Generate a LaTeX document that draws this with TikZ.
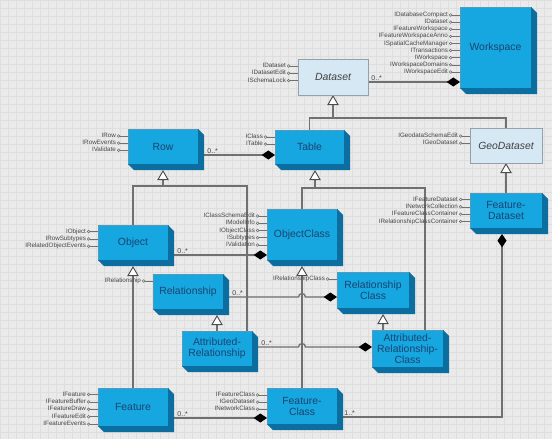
\documentclass[tikz,border=0pt]{standalone}
\usepackage{fontspec}
\setmainfont{Liberation Sans}
\usetikzlibrary{arrows.meta,calc}

\definecolor{paperfill}{RGB}{234,234,234}
\definecolor{gridcol}{RGB}{222,222,222}
\definecolor{boxfront}{RGB}{22,166,224}
\definecolor{boxside}{RGB}{12,110,158}
\definecolor{boxtext}{RGB}{26,68,112}
\definecolor{absfill}{RGB}{214,232,244}
\definecolor{absedge}{RGB}{150,160,170}
\definecolor{wire}{RGB}{112,112,112}
\definecolor{ifacetext}{RGB}{72,72,72}

\pgfdeclarelayer{paper}
\pgfdeclarelayer{wires}
\pgfsetlayers{paper,wires,main}

\tikzset{
  classbox/.style 2 args={rectangle, inner sep=0pt, outer sep=0pt, anchor=north west,
    minimum width=#1*0.75pt, minimum height=#2*0.75pt, align=center,
    font=\fontsize{7.8}{8.2}\selectfont, text=boxtext},
  solidbox/.style={fill=boxfront, draw=boxside!70, line width=0.3pt},
  abstractbox/.style={fill=absfill, draw=absedge, line width=0.6pt, text=black!75,
    font=\fontsize{7.8}{8.2}\selectfont\itshape},
  iface/.style={anchor=east, inner sep=0.6pt, text height=3.3pt, text depth=0.9pt,
    font=\fontsize{4.7}{5}\selectfont, text=ifacetext},
  lolli/.style={draw=wire, line width=0.4pt, {Circle[open, length=2.4pt]}-},
  mult/.style={pos=0, anchor=south west, xshift=6pt, inner sep=0.6pt,
    font=\fontsize{5.2}{6}\selectfont, text=black!75},
  wireline/.style={draw=wire, line width=1pt},
  inherit/.style={wireline, -{Triangle[color=black!70, fill=white, line width=0.7pt, length=7.5pt, width=8.5pt]}},
  owns/.style={wireline, -{Diamond[color=black, length=10pt, width=6.8pt]}},
}

\begin{document}
\begin{tikzpicture}[x=0.75pt,y=0.75pt,yscale=-1,xscale=1]
\useasboundingbox (0,0) rectangle (552,439);
\begin{pgfonlayer}{paper}
\fill[paperfill] (0,0) rectangle (552,439);
\draw[gridcol, line width=0.25pt] (0,0) grid[step=8] (552,439);
\end{pgfonlayer}

%Shapes
\node[classbox={71}{81}, solidbox] (workspace) at (460,7) {Workspace};
\node[classbox={70}{36}, abstractbox] (dataset) at (298,59) {Dataset};
\node[classbox={72}{35}, abstractbox] (geodataset) at (470,128) {GeoDataset};
\node[classbox={70}{35}, solidbox] (row) at (128,129) {Row};
\node[classbox={69}{34}, solidbox] (table) at (275,130) {Table};
\node[classbox={72}{35}, solidbox] (featuredataset) at (470,193) {Feature-\\Dataset};
\node[classbox={70}{51}, solidbox] (objectclass) at (267,209) {ObjectClass};
\node[classbox={70}{35}, solidbox] (object) at (98,225) {Object};
\node[classbox={70}{35}, solidbox] (relationship) at (153,274) {Relationship};
\node[classbox={72}{36}, solidbox] (relationshipclass) at (337,272) {Relationship\\Class};
\node[classbox={70}{35}, solidbox] (attrrel) at (182,331) {Attributed-\\Relationship};
\node[classbox={71}{37}, solidbox] (attrrelclass) at (372,330) {Attributed-\\Relationship-\\Class};
\node[classbox={70}{38}, solidbox] (feature) at (98,388) {Feature};
\node[classbox={70}{36}, solidbox] (featureclass) at (267,388) {Feature-\\Class};

% depth of the blue boxes
\foreach \bx in {workspace,row,table,featuredataset,objectclass,object,relationship,
    relationshipclass,attrrel,attrrelclass,feature,featureclass}
  \fill[boxside] (\bx.north east) -- ($(\bx.north east)+(6,6)$) -- ($(\bx.south east)+(6,6)$)
    -- ($(\bx.south west)+(6,6)$) -- (\bx.south west) -- (\bx.south east) -- cycle;

% Text Node (interfaces)
\foreach \bx/\yo/\dy/\names in {
    workspace/8/7.12/{IDatabaseCompact,IDataset,IFeatureWorkspace,IFeatureWorkspaceAnno,ISpatialCacheManager,ITransactions,IWorkspace,IWorkspaceDomains,IWorkspaceEdit},
    dataset/7/7.3/{IDataset,IDatasetEdit,ISchemaLock},
    row/7/7.1/{IRow,IRowEvents,IValidate},
    table/7/7.1/{IClass,ITable},
    geodataset/8/7.1/{IGeodataSchemaEdit,IGeoDataset},
    featuredataset/6.5/7.3/{IFeatureDataset,INetworkCollection,IFeatureClassContainer,IRelationshipClassContainer},
    object/6.5/7.4/{IObject,IRowSubtypes,IRelatedObjectEvents},
    objectclass/7/7.25/{IClassSchemaEdit,IModelInfo,IObjectClass,ISubtypes,IValidation},
    relationship/7/7/{IRelationship},
    relationshipclass/7/7/{IRelationshipClass},
    featureclass/7/7.1/{IFeatureClass,IGeoDataset,INetworkClass},
    feature/6.5/7.4/{IFeature,IFeatureBuffer,IFeatureDraw,IFeatureEdit,IFeatureEvents}}
  \foreach \lbl [count=\i from 0] in \names {
    \node[iface] (\bx-if\i) at ($(\bx.north west)+(-11,\yo+\dy*\i)$) {\lbl};
    \draw[lolli] (\bx-if\i.east) -- (\bx-if\i.east -| \bx.west);
  }

\begin{pgfonlayer}{wires}
%Straight Lines (generalization)
\coordinate (dsjoin) at (333,118);
\coordinate (tbjoin) at (315,188);
\coordinate (rwjoin) at (163,186);
\draw[wireline] (table.north) |- (dsjoin) -| (geodataset.north);
\draw[inherit] (dsjoin) -- (dataset.south);
\draw[wireline] (objectclass.north) |- (tbjoin) -| ($(attrrelclass.north west)+(53,0)$);
\draw[inherit] (tbjoin) -- ($(tbjoin |- table.south)+(0,6)$);
\draw[wireline] (object.north) |- (rwjoin) -| ($(attrrel.north west)+(65,0)$);
\draw[inherit] (rwjoin) -- ($(row.south)+(0,6)$);
\draw[inherit] (feature.north) -- ($(object.south)+(0,6)$);
\draw[inherit] (featureclass.north) -- ($(objectclass.south)+(0,6)$);
\draw[inherit] (attrrel.north) -- ($(attrrel.north |- relationship.south)+(0,6)$);
\draw[inherit] ($(attrrelclass.north west)+(11,0)$) -- ($(attrrelclass.north west |- relationshipclass.south)+(11,6)$);
\draw[inherit] (featuredataset.north) -- (geodataset.south);

%Straight Lines (composition)
\draw[owns] (dataset.east |- 0,82) -- node[mult, xshift=-4.5pt] (m-ds) {0..*} (workspace.west |- 0,82);
\draw[owns] (row.east |- 0,155) -- node[mult] (m-row) {0..*} (table.west |- 0,155);
\draw[owns] (object.east |- 0,255) -- node[mult] (m-obj) {0..*} (objectclass.west |- 0,255);
\draw[owns] (relationship.east |- 0,297) -- node[mult] (m-rel) {0..*}
  ($(objectclass.south |- 0,297)+(-3.5,0)$) arc[start angle=180, end angle=360, radius=3.5]
  -- (relationshipclass.west |- 0,297);
\draw[owns] (attrrel.east |- 0,347) -- node[mult] (m-arel) {0..*}
  ($(objectclass.south |- 0,347)+(-3.5,0)$) arc[start angle=180, end angle=360, radius=3.5]
  -- (attrrelclass.west |- 0,347);
\draw[owns] (feature.east |- 0,418) -- node[mult] (m-feat) {0..*} (featureclass.west |- 0,418);
\draw[owns] (featureclass.east |- 0,417) -| node[mult, xshift=-1.5pt] (m-fc) {1..*} ($(featuredataset.south)+(-4,6)$);
\end{pgfonlayer}

\end{tikzpicture}
\end{document}
